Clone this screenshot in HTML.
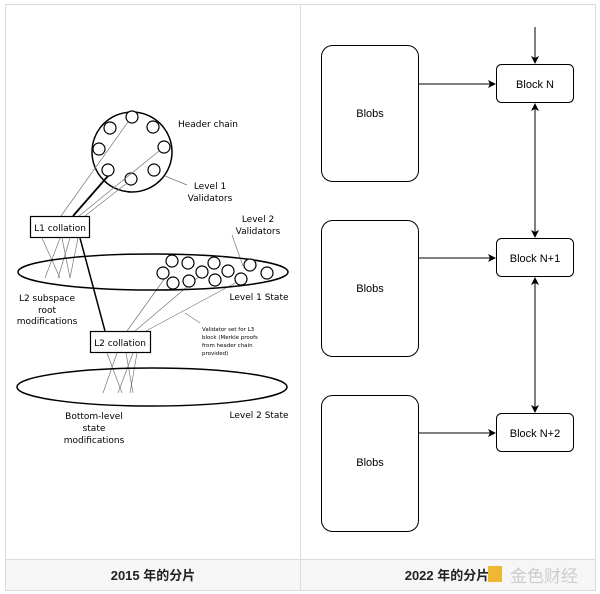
<!DOCTYPE html>
<html><head><meta charset="utf-8"><style>
body{margin:0;background:#fff;}
svg{display:block}
</style></head><body>
<svg width="600" height="594" viewBox="0 0 600 594" xmlns="http://www.w3.org/2000/svg" font-family="'DejaVu Sans', 'Liberation Sans', sans-serif">
<rect x="0" y="0" width="600" height="594" fill="#fff"/>
<!-- table -->
<rect x="5.5" y="4.5" width="590" height="586" fill="none" stroke="#dcdcdc"/>
<line x1="300.5" y1="4" x2="300.5" y2="590" stroke="#dcdcdc"/>
<rect x="6" y="560" width="589" height="30" fill="#f6f6f6"/>
<line x1="6" y1="559.5" x2="595" y2="559.5" stroke="#dcdcdc"/>
<line x1="300.5" y1="560" x2="300.5" y2="590" stroke="#dcdcdc"/>
<text x="153" y="580" font-size="13" font-weight="bold" text-anchor="middle" font-family="'Liberation Sans','Noto Sans CJK SC',sans-serif" fill="#222">2015 年的分片</text>
<text x="447" y="580" font-size="13" font-weight="bold" text-anchor="middle" font-family="'Liberation Sans','Noto Sans CJK SC',sans-serif" fill="#222">2022 年的分片</text>
<rect x="488" y="566" width="14" height="16" fill="#f0b020" opacity="0.9"/>
<text x="510" y="582" font-size="17" font-family="'Liberation Sans','Noto Sans CJK SC',sans-serif" fill="#ccc">金色财经</text>

<!-- left diagram -->
<g stroke="#000" fill="none">
<circle cx="132" cy="152" r="40" stroke-width="1.5"/>
<g stroke-width="1.2" fill="#fff">
<circle cx="132" cy="117" r="6"/><circle cx="110" cy="128" r="6"/><circle cx="153" cy="127" r="6"/>
<circle cx="99" cy="149" r="6"/><circle cx="164" cy="147" r="6"/><circle cx="108" cy="170" r="6"/>
<circle cx="154" cy="170" r="6"/><circle cx="131" cy="179" r="6"/>
</g>
<g stroke="#777" stroke-width="0.7">
<line x1="61" y1="216" x2="128" y2="122"/>
<line x1="79" y1="216" x2="159" y2="151"/>
<line x1="85" y1="216" x2="127" y2="183"/>
<line x1="165" y1="176" x2="187" y2="185"/>
<line x1="42" y1="238" x2="60" y2="278"/>
<line x1="60" y1="238" x2="45" y2="278"/>
<line x1="62" y1="238" x2="70" y2="278"/>
<line x1="70" y1="238" x2="58" y2="278"/>
<line x1="78" y1="238" x2="70" y2="278"/>
<line x1="232" y1="235" x2="243" y2="266"/>
<line x1="127" y1="331" x2="165" y2="278"/>
<line x1="135" y1="331" x2="201" y2="275"/>
<line x1="146" y1="331" x2="237" y2="282"/>
<line x1="185" y1="313" x2="200" y2="323"/>
<line x1="107" y1="353" x2="122" y2="393"/>
<line x1="117" y1="353" x2="103" y2="393"/>
<line x1="126" y1="353" x2="133" y2="393"/>
<line x1="133" y1="353" x2="118" y2="393"/>
<line x1="137" y1="353" x2="130" y2="393"/>
</g>
<line x1="73" y1="216" x2="108" y2="176" stroke-width="1.8"/>
<line x1="80" y1="238" x2="105" y2="331" stroke-width="1.5"/>
<ellipse cx="153" cy="272" rx="135" ry="18" stroke-width="1.5"/>
<ellipse cx="152" cy="387" rx="135" ry="19" stroke-width="1.5"/>
<rect x="30.5" y="216.5" width="59" height="21" fill="#fff" stroke-width="1.2"/>
<rect x="90.5" y="331.5" width="60" height="21" fill="#fff" stroke-width="1.2"/>
<g stroke-width="1.2" fill="#fff">
<circle cx="172" cy="261" r="6"/><circle cx="188" cy="263" r="6"/><circle cx="214" cy="263" r="6"/>
<circle cx="250" cy="265" r="6"/><circle cx="163" cy="273" r="6"/><circle cx="202" cy="272" r="6"/>
<circle cx="228" cy="271" r="6"/><circle cx="267" cy="273" r="6"/><circle cx="173" cy="283" r="6"/>
<circle cx="189" cy="281" r="6"/><circle cx="215" cy="280" r="6"/><circle cx="241" cy="279" r="6"/>
</g>
</g>
<g font-size="9" fill="#000" text-anchor="middle">
<text x="60" y="231">L1 collation</text>
<text x="120" y="346">L2 collation</text>
<text x="208" y="127">Header chain</text>
<text x="210" y="189">Level 1</text>
<text x="210" y="201">Validators</text>
<text x="258" y="222">Level 2</text>
<text x="258" y="234">Validators</text>
<text x="259" y="300">Level 1 State</text>
<text x="47" y="301">L2 subspace</text>
<text x="47" y="313">root</text>
<text x="47" y="324">modifications</text>
<text x="94" y="419">Bottom-level</text>
<text x="94" y="431">state</text>
<text x="94" y="443">modifications</text>
<text x="259" y="418">Level 2 State</text>
</g>
<g font-size="5.5" fill="#000">
<text x="202" y="331">Validator set for L3</text>
<text x="202" y="339">block (Merkle proofs</text>
<text x="202" y="347">from header chain</text>
<text x="202" y="355">provided)</text>
</g>

<!-- right diagram -->
<defs><marker id="a" markerWidth="8" markerHeight="8" refX="7" refY="4" orient="auto" markerUnits="userSpaceOnUse"><path d="M0,0 L8,4 L0,8 L2,4 Z" fill="#000"/></marker></defs>
<g stroke="#000" stroke-width="1" fill="#fff">
<rect x="321.5" y="45.5" width="97" height="136" rx="11"/>
<rect x="321.5" y="220.5" width="97" height="136" rx="11"/>
<rect x="321.5" y="395.5" width="97" height="136" rx="11"/>
<rect x="496.5" y="64.5" width="77" height="38" rx="5"/>
<rect x="496.5" y="238.5" width="77" height="38" rx="5"/>
<rect x="496.5" y="413.5" width="77" height="38" rx="5"/>
</g>
<g stroke="#000" stroke-width="1" fill="none" marker-end="url(#a)">
<line x1="535" y1="27" x2="535" y2="63"/>
<line x1="419" y1="84" x2="495" y2="84"/>
<line x1="419" y1="258" x2="495" y2="258"/>
<line x1="419" y1="433" x2="495" y2="433"/>
<line x1="535" y1="170" x2="535" y2="104"/>
<line x1="535" y1="170" x2="535" y2="237"/>
<line x1="535" y1="345" x2="535" y2="278"/>
<line x1="535" y1="345" x2="535" y2="412"/>
</g>
<g font-family="'Liberation Sans',sans-serif" font-size="11" text-anchor="middle" fill="#000">
<text x="370" y="117">Blobs</text>
<text x="370" y="292">Blobs</text>
<text x="370" y="466">Blobs</text>
<text x="535" y="88">Block N</text>
<text x="535" y="262">Block N+1</text>
<text x="535" y="437">Block N+2</text>
</g>
</svg>
</body></html>
